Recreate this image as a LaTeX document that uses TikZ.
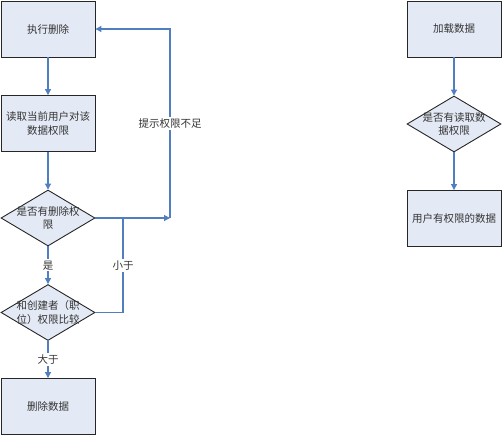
\documentclass[tikz,border=0pt]{standalone}
\usepackage{fontspec}
\newfontfamily\cjk{Noto Sans CJK SC}
\usetikzlibrary{shapes.geometric,arrows.meta}
\definecolor{boxfill}{HTML}{E4EAF5}
\definecolor{linec}{HTML}{4F7FC0}
\tikzset{
  x=1pt,y=1pt,
  every node/.style={font=\cjk\fontsize{10.5}{13.5}\selectfont, text=black!80},
  box/.style={draw=black!85, line width=0.9pt, fill=boxfill, minimum width=94pt, minimum height=56pt, inner sep=0pt, align=center},
  dia/.style={diamond, draw=black!85, line width=0.9pt, fill=boxfill, minimum width=94pt, minimum height=56pt, inner sep=0pt},
  conn/.style={draw=linec, line width=1.1pt, -{Triangle[length=6pt,width=6pt]}},
  plain/.style={draw=linec, line width=1.1pt},
  lbl/.style={fill=white, inner sep=1.5pt},
}
\begin{document}
\begin{tikzpicture}
\useasboundingbox (0,0) rectangle (502,-436);
% left flow
\node[box] (b1) at (48,-29) {执行删除};
\node[box] (b2) at (48,-123.5) {读取当前用户对该\\数据权限};
\node[dia, label={[align=center]center:是否有删除权\\限}] (d1) at (48,-218) {};
\node[dia, label={[align=center]center:和创建者（职\\位）权限比较}] (d2) at (48,-312.5) {};
\node[box] (b3) at (48,-406.5) {删除数据};
% right flow
\node[box] (r1) at (454,-29) {加载数据};
\node[dia, label={[align=center]center:是否有读取数\\据权限}] (r2) at (454,-124) {};
\node[box] (r3) at (454,-218.5) {用户有权限的数据};
% connectors
\coordinate (c1) at (170,-218);
\coordinate (c2) at (170,-29);
\coordinate (c3) at (123,-312.5);
\coordinate (c4) at (123,-218);
\draw[conn] (b1) -- (b2);
\draw[conn] (b2) -- (d1);
\draw[conn] (d1.east) -- (c1);
\draw[conn] (c1) -- node[lbl]{提示权限不足} (c2) -- (b1.east);
\draw[conn] (d1) -- node[lbl]{是} (d2);
\draw[plain] (d2.east) -- (c3) -- node[lbl]{小于} (c4);
\draw[conn] (d2) -- node[lbl]{大于} (b3);
\draw[conn] (r1) -- (r2);
\draw[conn] (r2) -- (r3);
\end{tikzpicture}
\end{document}
